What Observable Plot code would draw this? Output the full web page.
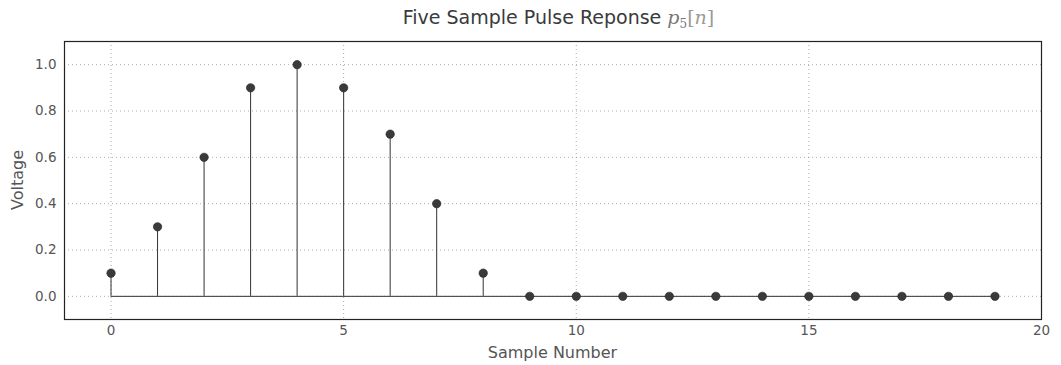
<!DOCTYPE html>
<html>
<head>
<meta charset="utf-8">
<script src="https://cdn.jsdelivr.net/npm/d3@7"></script>
<script src="https://cdn.jsdelivr.net/npm/@observablehq/plot@0.6"></script>
<style>
  html, body { margin: 0; padding: 0; background: #fff; }
  #chart svg { display: block; }
</style>
</head>
<body>
<div id="chart"></div>
<script>
// Sample index n and pulse response voltage p5[n]
const samples = [0, 1, 2, 3, 4, 5, 6, 7, 8, 9, 10, 11, 12, 13, 14, 15, 16, 17, 18, 19];
const voltages = [0.1, 0.3, 0.6, 0.9, 1.0, 0.9, 0.7, 0.4, 0.1, 0, 0, 0, 0, 0, 0, 0, 0, 0, 0, 0];

const xTicks = [0, 5, 10, 15, 20];
const yTicks = [0.0, 0.2, 0.4, 0.6, 0.8, 1.0];

const data = samples.map((n, i) => ({n, v: voltages[i]}));

const ink = "#333";
const textColor = "#555";
const fontFamily = "DejaVu Sans, sans-serif";

const chart = Plot.plot({
  width: 1061,
  height: 365,
  marginTop: 41,
  marginBottom: 46,
  marginLeft: 64,
  marginRight: 20,
  style: {fontFamily, fontSize: "13.5px", color: textColor, background: "#fff"},
  x: {domain: [-1, 20]},
  y: {domain: [-0.1, 1.1]},
  marks: [
    // dotted grid
    Plot.gridY(yTicks, {stroke: "#888", strokeOpacity: 0.7, strokeDasharray: "1,3", strokeWidth: 1}),
    Plot.gridX(xTicks, {stroke: "#888", strokeOpacity: 0.7, strokeDasharray: "1,3", strokeWidth: 1}),
    // axes
    Plot.axisX(xTicks, {
      tickSize: 0, tickPadding: 6, fontSize: 13.5, fill: textColor,
      label: null
    }),
    Plot.axisY(yTicks, {
      tickSize: 0, tickPadding: 8, fontSize: 13.5, fill: textColor,
      tickFormat: d3.format(".1f"),
      label: null
    }),
    // baseline from first to last sample
    Plot.ruleY([0], {x1: d3.min(samples), x2: d3.max(samples), stroke: ink, strokeWidth: 1}),
    // stems
    Plot.ruleX(data, {x: "n", y1: 0, y2: "v", stroke: ink, strokeWidth: 1}),
    // markers
    Plot.dot(data, {x: "n", y: "v", r: 4.2, fill: "#3a3a3a", stroke: "#222", strokeWidth: 0.6}),
    Plot.frame({stroke: "#222", strokeWidth: 1.2})
  ]
});

const svg = d3.select(chart);
const cx = (64 + 1041) / 2;
const cy = (41 + 319) / 2;

// Axis titles
svg.append("text")
  .attr("x", cx).attr("y", 358)
  .attr("text-anchor", "middle")
  .attr("font-family", fontFamily).attr("font-size", 16)
  .attr("fill", textColor)
  .text("Sample Number");
svg.append("text")
  .attr("transform", `translate(23,${cy}) rotate(-90)`)
  .attr("text-anchor", "middle")
  .attr("font-family", fontFamily).attr("font-size", 16)
  .attr("fill", textColor)
  .text("Voltage");

// Title with math-style p_5[n]
const t = svg.append("text")
  .attr("x", cx + 6)
  .attr("y", 24)
  .attr("text-anchor", "middle")
  .attr("font-family", fontFamily)
  .attr("font-size", 19)
  .attr("fill", "#3a3a3a");
t.append("tspan").text("Five Sample Pulse Reponse ");
t.append("tspan").attr("font-family", "DejaVu Serif, serif").attr("font-style", "italic").attr("fill", "#777").text("p");
t.append("tspan").attr("font-family", "DejaVu Serif, serif").attr("font-size", 12).attr("dy", 4).attr("fill", "#777").text("5");
t.append("tspan").attr("font-family", "DejaVu Serif, serif").attr("dy", -4).attr("fill", "#999").text("[");
t.append("tspan").attr("font-family", "DejaVu Serif, serif").attr("font-style", "italic").attr("fill", "#999").text("n");
t.append("tspan").attr("font-family", "DejaVu Serif, serif").attr("fill", "#999").text("]");

document.getElementById("chart").appendChild(chart);
</script>
</body>
</html>
